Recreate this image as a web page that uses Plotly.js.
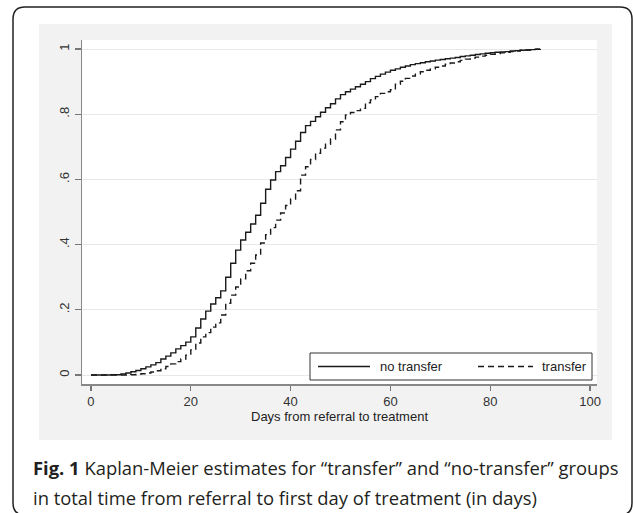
<!DOCTYPE html>
<html>
<head>
<meta charset="utf-8">
<script src="https://cdn.plot.ly/plotly-3.0.1.min.js"></script>
<style>html,body{margin:0;padding:0;background:#fff;}#chart{width:633px;height:513px;}</style>
</head>
<body>
<div id="chart"></div>
<script>
// Days since referral (step change points)
const days = [
  0,1,2,3,4,5,6,7,8,9,
  10,11,12,13,14,15,16,17,18,19,
  20,21,22,23,24,25,26,27,28,29,
  30,31,32,33,34,35,36,37,38,39,
  40,41,42,43,44,45,46,47,48,49,
  50,51,52,53,54,55,56,57,58,59,
  60,61,62,63,64,65,66,67,68,69,
  70,71,72,73,74,75,76,77,78,79,
  80,81,82,83,84,85,86,87,88,89,
  90
];
// Kaplan-Meier cumulative proportion treated: "no transfer"
const noTransfer = [
  0,0,0,0,0.001,0.001,0.003,0.006,0.010,0.014,
  0.019,0.025,0.031,0.038,0.049,0.058,0.068,0.080,0.090,0.101,
  0.117,0.144,0.172,0.196,0.218,0.237,0.258,0.300,0.343,0.383,
  0.414,0.438,0.463,0.490,0.527,0.570,0.598,0.624,0.642,0.667,
  0.693,0.717,0.744,0.765,0.778,0.792,0.806,0.820,0.832,0.847,
  0.860,0.869,0.877,0.884,0.892,0.900,0.909,0.916,0.923,0.929,
  0.935,0.939,0.944,0.948,0.952,0.955,0.958,0.961,0.963,0.966,
  0.968,0.970,0.972,0.974,0.977,0.979,0.981,0.983,0.985,0.987,
  0.989,0.990,0.991,0.992,0.994,0.995,0.996,0.997,0.998,0.999,
  1.000
];
// Kaplan-Meier cumulative proportion treated: "transfer"
const transfer = [
  0,0,0,0,0,0,0,0,0.001,0.002,
  0.004,0.006,0.009,0.013,0.019,0.026,0.034,0.041,0.049,0.061,
  0.077,0.098,0.117,0.130,0.147,0.160,0.184,0.220,0.245,0.270,
  0.295,0.320,0.343,0.368,0.405,0.430,0.452,0.475,0.497,0.520,
  0.540,0.565,0.613,0.639,0.661,0.680,0.696,0.708,0.724,0.752,
  0.777,0.798,0.805,0.811,0.818,0.835,0.844,0.854,0.864,0.869,
  0.875,0.892,0.901,0.910,0.917,0.923,0.930,0.935,0.939,0.944,
  0.948,0.953,0.957,0.961,0.965,0.969,0.972,0.975,0.978,0.981,
  0.984,0.986,0.988,0.990,0.992,0.994,0.996,0.997,0.998,0.999,
  1.000
];
const seriesNames = ["no transfer", "transfer"];
const xTickVals = [0,20,40,60,80,100];
const yTickVals = [0,0.2,0.4,0.6,0.8,1];
const yTickText = ["0",".2",".4",".6",".8","1"];
const xTitle = "Days from referral to treatment";
const captionLine1 = "<b>Fig. 1</b> Kaplan-Meier estimates for \u201ctransfer\u201d and \u201cno-transfer\u201d groups";
const captionLine2 = "in total time from referral to first day of treatment (in days)";

// ---- layout geometry (pixels) ----
const W = 633, H = 513;
const PL = 82, PR = 597, PT = 40, PB = 384;
const pw = PR - PL, ph = PB - PT;
const px = v => (v - PL) / pw;
const py = v => (PB - v) / ph;

function roundRect(x0, y0, x1, y1, r) {
  const rx = r / pw, ry = r / ph;
  const X0 = px(x0), X1 = px(x1), Y0 = py(y0), Y1 = py(y1); // Y0 top, Y1 bottom
  return `M${X0+rx},${Y0} L${X1-rx},${Y0} Q${X1},${Y0} ${X1},${Y0-ry} L${X1},${Y1+ry} Q${X1},${Y1} ${X1-rx},${Y1} L${X0+rx},${Y1} Q${X0},${Y1} ${X0},${Y1+ry} L${X0},${Y0-ry} Q${X0},${Y0} ${X0+rx},${Y0} Z`;
}

const lineColor = "#1a1a1a";
const dashStyle = "6px,4px";
const traces = [
  {x: days, y: noTransfer, name: seriesNames[0], type: "scatter", mode: "lines",
   line: {shape: "hv", color: lineColor, width: 1.4}},
  {x: days, y: transfer, name: seriesNames[1], type: "scatter", mode: "lines",
   line: {shape: "hv", color: lineColor, width: 1.4, dash: dashStyle}}
];

// legend geometry (pixels)
const LG = {x0: 310, x1: 592, y0: 353, y1: 380, yc: 366.5};
const legendFont = {family: "Arial, 'Liberation Sans', sans-serif", size: 13, color: "#222"};

const layout = {
  width: W, height: H,
  margin: {l: PL, r: W - PR, t: PT, b: H - PB, pad: 0},
  paper_bgcolor: "#ffffff",
  plot_bgcolor: "#ffffff",
  font: {family: "Arial, 'Liberation Sans', sans-serif", size: 13, color: "#333"},
  showlegend: false,
  xaxis: {
    range: [-1.8, 101.4], tickvals: xTickVals, ticktext: xTickVals.map(String),
    ticks: "outside", ticklen: 5, tickwidth: 1.2, tickcolor: "#777",
    showline: true, linecolor: "#888", linewidth: 1.5,
    showgrid: false, zeroline: false, automargin: false,
    tickfont: {size: 13, color: "#333"},
    title: {text: xTitle, standoff: 2, font: {size: 13, color: "#222"}}
  },
  yaxis: {
    range: [-0.0276, 1.0276], tickvals: yTickVals, ticktext: yTickText,
    tickangle: -90,
    ticks: "outside", ticklen: 6, tickwidth: 1.2, tickcolor: "#777",
    showline: true, linecolor: "#888", linewidth: 1.5,
    showgrid: true, gridcolor: "#e8e8e8", gridwidth: 1,
    zeroline: false, automargin: false,
    tickfont: {size: 13, color: "#333"}
  },
  shapes: [
    {type: "path", xref: "paper", yref: "paper", layer: "below",
     path: roundRect(13, 7, 632, 515, 12), line: {color: "#222", width: 1.5}, fillcolor: "rgba(0,0,0,0)"},
    {type: "rect", xref: "paper", yref: "paper", layer: "below",
     x0: px(39), x1: px(612), y0: py(440), y1: py(24), fillcolor: "#f2f2f2", line: {width: 0}},
    {type: "rect", xref: "paper", yref: "paper", layer: "below",
     x0: 0, x1: 1, y0: 0, y1: 1, fillcolor: "#ffffff", line: {width: 0}},
    // legend box and keys
    {type: "rect", xref: "paper", yref: "paper",
     x0: px(LG.x0), x1: px(LG.x1), y0: py(LG.y1), y1: py(LG.y0),
     fillcolor: "#ffffff", line: {color: "#333", width: 1}},
    {type: "line", xref: "paper", yref: "paper",
     x0: px(318), x1: px(370), y0: py(LG.yc), y1: py(LG.yc),
     line: {color: lineColor, width: 1.4}},
    {type: "line", xref: "paper", yref: "paper",
     x0: px(478), x1: px(533), y0: py(LG.yc), y1: py(LG.yc),
     line: {color: lineColor, width: 1.4, dash: dashStyle}}
  ],
  annotations: [
    {xref: "paper", yref: "paper", x: px(378), y: py(LG.yc), xanchor: "left", yanchor: "middle",
     text: seriesNames[0], showarrow: false, font: legendFont},
    {xref: "paper", yref: "paper", x: px(540), y: py(LG.yc), xanchor: "left", yanchor: "middle",
     text: seriesNames[1], showarrow: false, font: legendFont},
    {xref: "paper", yref: "paper", x: px(31), y: py(467), xanchor: "left", yanchor: "middle",
     text: captionLine1, showarrow: false, align: "left",
     font: {family: "'Open Sans', 'Noto Sans', sans-serif", size: 18.4, color: "#231f20"}},
    {xref: "paper", yref: "paper", x: px(31), y: py(497), xanchor: "left", yanchor: "middle",
     text: captionLine2, showarrow: false, align: "left",
     font: {family: "'Open Sans', 'Noto Sans', sans-serif", size: 18.4, color: "#231f20"}}
  ]
};

Plotly.newPlot("chart", traces, layout, {displayModeBar: false, staticPlot: true});
</script>
</body>
</html>
